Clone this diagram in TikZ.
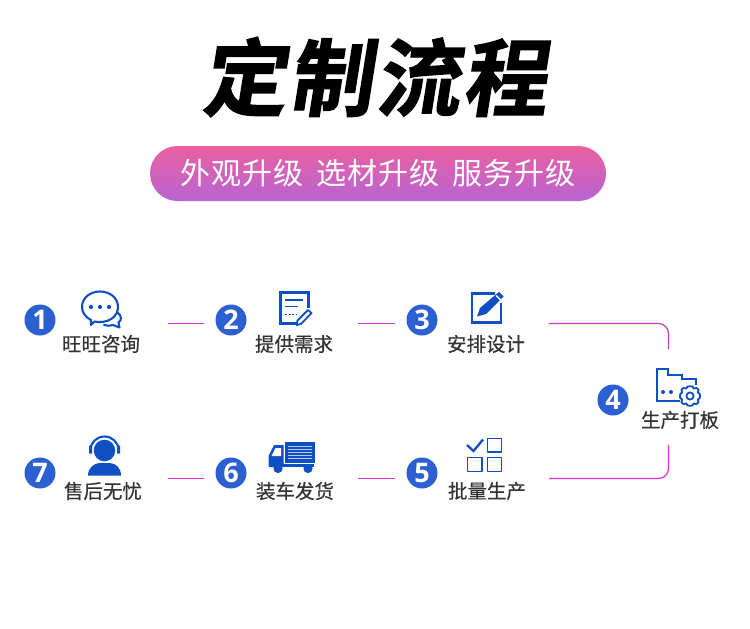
\documentclass[tikz,border=0pt]{standalone}
\usepackage{fontspec}
\newfontfamily\cjk[FakeBold=0.35]{Noto Sans CJK SC}
\newfontfamily\cjkpill[LetterSpace=3.6,WordSpace=1.6]{Noto Sans CJK SC}
\newfontfamily\cjktitle[FakeSlant=0.16,FakeBold=1.6,LetterSpace=3.5]{Noto Sans CJK SC Bold}
\newfontfamily\numfont{Open Sans Bold}
\definecolor{iconblue}{HTML}{0F4FC4}
\definecolor{numblue}{HTML}{2C60D2}
\definecolor{labelgray}{HTML}{333333}
\definecolor{linea}{HTML}{C13FBE}
\definecolor{lineb}{HTML}{E22FD0}
\definecolor{pilltop}{HTML}{E960A0}
\definecolor{pillbot}{HTML}{B964D4}
\tikzset{
 numdot/.style={circle,fill=numblue,draw=none,minimum size=31pt,inner sep=0pt,text=white,font=\numfont\fontsize{27}{27}\selectfont},
 steplabel/.style={inner sep=0pt,text=labelgray,font=\cjk\fontsize{19.5}{20}\selectfont},
 linkA/.style={draw=linea,line width=1.2pt,rounded corners=10pt},
 linkB/.style={draw=lineb,line width=1.2pt,rounded corners=10pt},
 icon/.style={draw=iconblue,line width=2.1pt,line cap=round,line join=round},
 iconfill/.style={fill=iconblue,draw=none},
}
\begin{document}
\begin{tikzpicture}[x=1pt,y=-1pt]
\fill[white] (0,0) rectangle (750,629);
\useasboundingbox (0,0) rectangle (750,629);
% title
\node[inner sep=0pt,text=black,font=\cjktitle\fontsize{84}{84}\selectfont] (title) at (374,77) {定制流程};
% pill
\node[rounded corners=27.5pt,top color=pilltop,bottom color=pillbot,minimum width=456pt,minimum height=55pt,inner sep=0pt,text=white,font=\cjkpill\fontsize{30}{31}\selectfont] (pill) at (378,173.5) {\raisebox{-1pt}{外观升级 选材升级 服务升级}};
% numbers
\node[numdot] (n1) at (40,320) {1};
\node[numdot] (n2) at (231,320) {2};
\node[numdot] (n3) at (422,320) {3};
\node[numdot] (n4) at (613,400) {4};
\node[numdot] (n5) at (422,473) {5};
\node[numdot] (n6) at (231,473) {6};
\node[numdot] (n7) at (40,473) {7};
% labels
\node[steplabel] (l1) at (101,344) {旺旺咨询};
\node[steplabel] (l2) at (294,344) {提供需求};
\node[steplabel] (l3) at (486,344) {安排设计};
\node[steplabel] (l4) at (680,420) {生产打板};
\node[steplabel] (l5) at (487,491) {批量生产};
\node[steplabel] (l6) at (295,491) {装车发货};
\node[steplabel] (l7) at (103,491) {售后无忧};
% connector ends
\coordinate (a1) at (168,323.5); \coordinate (a2) at (204,323.5);
\coordinate (b1) at (358,323.5); \coordinate (b2) at (395,323.5);
\coordinate (c1) at (549,323.5); \coordinate (c2) at (668.5,323.5); \coordinate (c3) at (668.5,349);
\coordinate (d1) at (668.5,445); \coordinate (d2) at (668.5,478.5); \coordinate (d3) at (549,478.5);
\coordinate (e1) at (395,478.5); \coordinate (e2) at (358,478.5);
\coordinate (f1) at (204,478.5); \coordinate (f2) at (168,478.5);
\draw[linkA] (a1) -- (a2);
\draw[linkA] (b1) -- (b2);
\draw[linkA] (c1) -- (c2) -- (c3);
\draw[linkB] (d1) -- (d2) -- (d3);
\draw[linkB] (e1) -- (e2);
\draw[linkB] (f1) -- (f2);
% icon 1: chat
\draw[icon] (117,312) .. controls (122,316) and (122,320) .. (118.5,322.5) -- (119.5,327.5) -- (113,325) .. controls (110,326) and (107,326) .. (104,325);
\draw[icon,fill=white] (91,320) .. controls (85,317) and (82,312) .. (82,307) .. controls (82,298) and (90,291.5) .. (100,291.5) .. controls (110,291.5) and (118,298) .. (118,307) .. controls (118,316) and (110,322) .. (100,322) .. controls (98,322) and (96,322) .. (94.5,321.5) -- (91,325) -- cycle;
\fill[iconfill] (91,307) circle (2.1) (100,307) circle (2.1) (109,307) circle (2.1);
% icon 2: document
\draw[icon,line width=2.2pt,line cap=butt,line join=miter] (308.5,308) -- (308.5,292.5) -- (280.5,292.5) -- (280.5,323.5) -- (297,323.5);
\draw[icon,line width=1.9pt,line cap=butt] (285,300) -- (303,300) (285,306.5) -- (298,306.5);
\draw[icon,line width=1.9pt,dash pattern=on 2pt off 1.5pt,line cap=butt] (285,314.5) -- (297,314.5);
\draw[icon,line width=1.8pt] (308,310) -- (311.5,313) -- (301,324) -- (296.5,325) -- (297.5,320.5) -- cycle;
% icon 3: edit
\draw[icon,line join=miter,line cap=butt,line width=2.4pt] (495,293.5) -- (472,293.5) -- (472,322.5) -- (501,322.5) -- (501,303);
\fill[iconfill] (477,316.5) -- (480,308) -- (496.5,294) -- (499,292) -- (503.5,296.5) -- (486,314) -- cycle;
\fill[white] (495.5,296) -- (496.5,295) -- (501,299.5) -- (500,300.5) -- cycle;
% icon 4: folder + gear
\draw[icon,line width=2pt,line join=miter,line cap=butt] (680,401) -- (657,401) -- (657,368.5) -- (668,368.5) -- (668,375) -- (682,375) -- (682,379) -- (695.5,379) -- (695.5,385);
\fill[iconfill] (663,392) circle (2) (671,392) circle (2);
\draw[icon,line width=1.8pt,line join=round] plot[smooth cycle,tension=.35] coordinates {
 (690,386.2) (692.6,386.6) (693.6,388.6) (696.4,387.9) (698.6,390) (697.8,392.4) (699.8,394) (699.8,398) (697.8,399.6) (698.6,402) (696.4,404.1) (693.6,403.4) (692.6,405.4) (690,405.8) (687.4,405.4) (686.4,403.4) (683.6,404.1) (681.4,402) (682.2,399.6) (680.2,398) (680.2,394) (682.2,392.4) (681.4,390) (683.6,387.9) (686.4,388.6) (687.4,386.6)};
\draw[icon,line width=1.8pt] (690,396) circle (3.6);
% icon 5: checklist
\draw[icon,line cap=butt,line join=miter,line width=2.3pt] (467,445) -- (473.5,451) -- (483,439.5);
\draw[icon,line width=1.9pt] (487.5,438.5) rectangle (501.5,452);
\draw[icon,line width=1.9pt] (467.5,457.5) rectangle (482,471.5);
\draw[icon,line width=1.9pt] (487.5,457.5) rectangle (501.5,471.5);
% icon 6: truck
\fill[iconfill] (285,442) rectangle (314.5,463);
\foreach \yy in {445.5,448.5,451.5,454.5,457.5}{\fill[white!70!iconblue] (287.5,\yy) rectangle (312,\yy+1.5);}
\fill[iconfill] (268.5,467) -- (268.5,456) -- (274,445) -- (283.5,445) -- (283.5,467) -- cycle;
\fill[white] (271.5,456) -- (275.5,448) -- (281,448) -- (281,456) -- cycle;
\fill[iconfill] (283,464) rectangle (314,466.5);
\fill[iconfill] (278,468.5) circle (4.6) (308,468.5) circle (4.6);
% icon 7: agent
\fill[iconfill] (104.5,450.5) circle (10.8);
\draw[icon,line cap=butt] (90.5,450) arc[start angle=180,end angle=360,x radius=14,y radius=13.5];
\fill[iconfill] (89,445.5) rectangle (92,453.5) (117,445.5) rectangle (120,453.5);
\fill[iconfill] (88,475.5) .. controls (88,468) and (94,463.5) .. (99,463) -- (110,463) .. controls (116,463.5) and (121,468) .. (121,475.5) -- cycle;
\end{tikzpicture}
\end{document}
